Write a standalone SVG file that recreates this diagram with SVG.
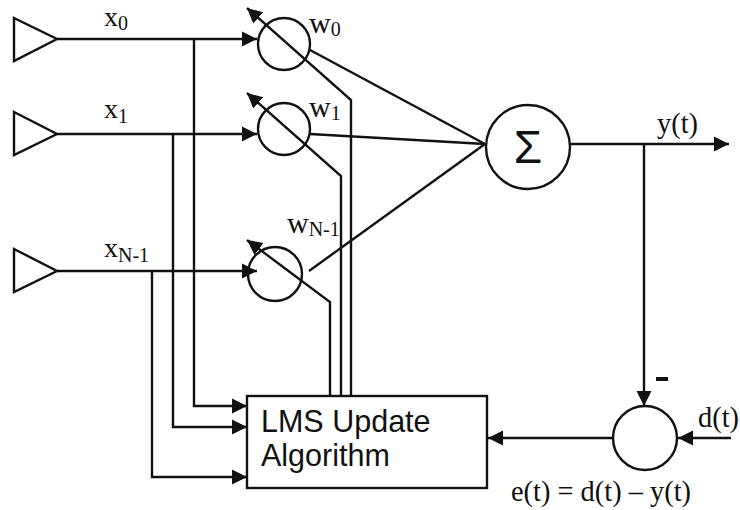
<svg xmlns="http://www.w3.org/2000/svg" width="740" height="510" viewBox="0 0 740 510">
<style>
.l{fill:none;stroke:#111;stroke-width:2.4}
.s{font-family:"Liberation Serif",serif;fill:#111;font-size:30px}
.x{font-family:"Liberation Serif",serif;fill:#111;font-size:28px}
.t{font-family:"Liberation Serif",serif;fill:#111;font-size:28.4px}
.u{font-size:20px}
.b{font-family:"Liberation Sans",sans-serif;fill:#111;font-size:30.5px}
</style>
<defs>
<marker id="h" markerUnits="userSpaceOnUse" markerWidth="16" markerHeight="16" refX="15" refY="8" orient="auto"><path d="M0,0.5 L15,8 L0,15.5 Z" fill="#111"/></marker>
</defs>
<rect width="740" height="510" fill="#fff"/>
<g id="connectors">
<path class="l" d="M57,39H257" marker-end="url(#h)"/>
<path class="l" d="M57,134H257" marker-end="url(#h)"/>
<path class="l" d="M57,271H257" marker-end="url(#h)"/>
<path class="l" d="M194,39V406H247" marker-end="url(#h)"/>
<path class="l" d="M173,134V427H247" marker-end="url(#h)"/>
<path class="l" d="M152,271V477H247" marker-end="url(#h)"/>
<path class="l" d="M351,395V100L247,8" marker-end="url(#h)"/>
<path class="l" d="M341,395V176L247,93" marker-end="url(#h)"/>
<path class="l" d="M330,395V302L247,240" marker-end="url(#h)"/>
<path class="l" d="M310,50L485,144"/>
<path class="l" d="M310,134L485,144"/>
<path class="l" d="M309,271L485,144"/>
<path class="l" d="M570,144H729" marker-end="url(#h)"/>
<path class="l" d="M644,144V406" marker-end="url(#h)"/>
<path class="l" d="M613,438H488" marker-end="url(#h)"/>
<path class="l" d="M731,438H678" marker-end="url(#h)"/>
</g>
<g id="input0"><path class="l" d="M14,18L57,39L14,61Z"/><text class="x" x="104" y="26">x<tspan class="u" dy="4">0</tspan></text></g>
<g id="input1"><path class="l" d="M14,112L57,134L14,155Z"/><text class="x" x="104" y="118">x<tspan class="u" dy="5">1</tspan></text></g>
<g id="inputN"><path class="l" d="M14,249L57,271L14,292Z"/><text class="x" x="104" y="257">x<tspan class="u" dy="5">N-1</tspan></text></g>
<g id="weight0"><circle class="l" cx="284" cy="44" r="26"/><text class="s" x="309" y="33">w<tspan class="u" dy="3">0</tspan></text></g>
<g id="weight1"><circle class="l" cx="284" cy="129" r="26"/><text class="s" x="309" y="117">w<tspan class="u" dy="3">1</tspan></text></g>
<g id="weightN"><circle class="l" cx="275" cy="274" r="27"/><text class="s" x="287" y="233">w<tspan class="u" dy="3">N-1</tspan></text></g>
<g id="sum"><circle class="l" cx="528" cy="147" r="42"/><text x="528" y="163" text-anchor="middle" font-family="Liberation Sans, sans-serif" font-size="46" fill="#111">Σ</text></g>
<g id="lms"><rect class="l" x="247" y="396" width="240" height="92"/><text class="b" x="261" y="432">LMS Update</text><text class="b" x="261" y="466">Algorithm</text></g>
<g id="error"><circle class="l" cx="645" cy="438" r="32"/><path d="M656,377h12v4h-12z" fill="#111"/></g>
<g id="labels">
<text class="t" x="657" y="133">y(t)</text>
<text class="t" x="698" y="427">d(t)</text>
<text class="t" x="511" y="501">e(t) = d(t) – y(t)</text>
</g>
</svg>
